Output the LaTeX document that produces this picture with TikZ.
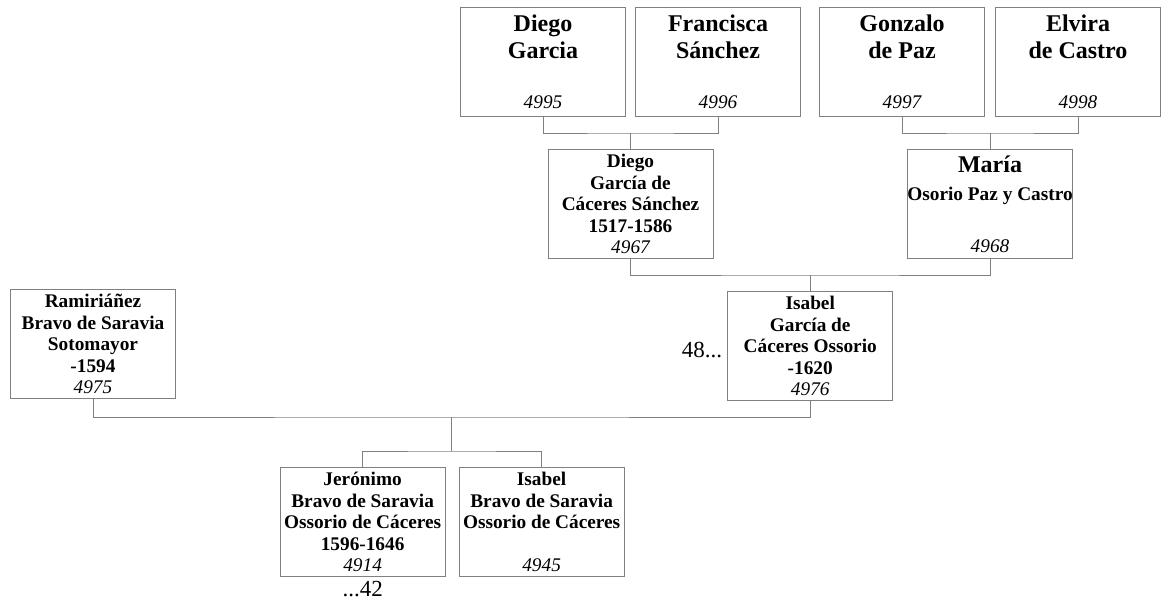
\documentclass[tikz,border=0pt]{standalone}
\usepackage{fontspec}
\setmainfont{Liberation Serif}
\usetikzlibrary{positioning,calc}
\definecolor{linegray}{RGB}{128,128,128}
\newcommand{\refno}[1]{{\normalfont\itshape\fontsize{19.3}{21.5}\selectfont #1}}

\begin{document}
\begin{tikzpicture}[
    x=1pt, y=-1pt,
    person/.style={draw=linegray, line width=1pt, align=center, minimum width=165pt, minimum height=109pt, inner sep=0pt, execute at begin node={\rule{0pt}{25pt}}, font=\fontsize{19.3}{21.5}\selectfont\bfseries},
    elder/.style={person, execute at begin node={\rule{0pt}{26pt}}, font=\fontsize{24}{27}\selectfont\bfseries},
    link/.style={draw=linegray, line width=1pt},
    more/.style={font=\fontsize{23}{26}\selectfont, inner sep=0pt}
]
\useasboundingbox (0,0) rectangle (1163,600);
\node[elder, anchor=north west] (dg) at (460,7) {Diego\\Garcia\\[23pt]\refno{4995}};
\node[elder, right=9pt of dg] (fs) {Francisca\\Sánchez\\[23pt]\refno{4996}};
\node[elder, right=18pt of fs] (gp) {Gonzalo\\de Paz\\[23pt]\refno{4997}};
\node[elder, right=10pt of gp] (ec) {Elvira\\de Castro\\[23pt]\refno{4998}};
\coordinate (c1) at ($(dg.south)!.5!(fs.south)+(0,16)$);
\coordinate (c2) at ($(gp.south)!.5!(ec.south)+(0,16)$);
\node[person, below=16pt of c1] (dgc) {Diego\\García de\\Cáceres Sánchez\\1517-1586\\\refno{4967}};
\node[person, below=16pt of c2] (mo) {{\fontsize{24}{27}\selectfont María}\\[6.5pt]Osorio Paz y Castro\\[30.5pt]\refno{4968}};
\coordinate (c3) at ($(dgc.south)!.5!(mo.south)+(0,16)$);
\node[person, below=16pt of c3] (igc) {Isabel\\García de\\Cáceres Ossorio\\-1620\\\refno{4976}};
\node[person, anchor=north west] (rbs) at (10,289) {Ramiriáñez\\Bravo de Saravia\\Sotomayor\\-1594\\\refno{4975}};
\coordinate (c4) at ($(rbs.south)!.5!(igc.south)+(0,17)$);
\coordinate (c5) at ($(c4)+(0,34)$);
\node[person, below=16pt of c5, xshift=-89pt] (jbs) {Jerónimo\\Bravo de Saravia\\Ossorio de Cáceres\\1596-1646\\\refno{4914}};
\node[person, right=13pt of jbs] (ibs) {Isabel\\Bravo de Saravia\\Ossorio de Cáceres\\[21.5pt]\refno{4945}};
\node[more, left=5pt of igc, yshift=-4pt] (up48) {48...};
\node[more, below=4pt of jbs] (down42) {...42};
\draw[link] (dg.south) |- (c1) -| (fs.south);
\draw[link] (c1) -- (dgc);
\draw[link] (gp.south) |- (c2) -| (ec.south);
\draw[link] (c2) -- (mo);
\draw[link] (dgc.south) |- (c3) -| (mo.south);
\draw[link] (c3) -- (igc);
\draw[link] (rbs.south) |- (c4) -| (igc.south);
\draw[link] (c4) -- (c5);
\draw[link] (jbs.north) |- (c5) -| (ibs.north);
\end{tikzpicture}
\end{document}
